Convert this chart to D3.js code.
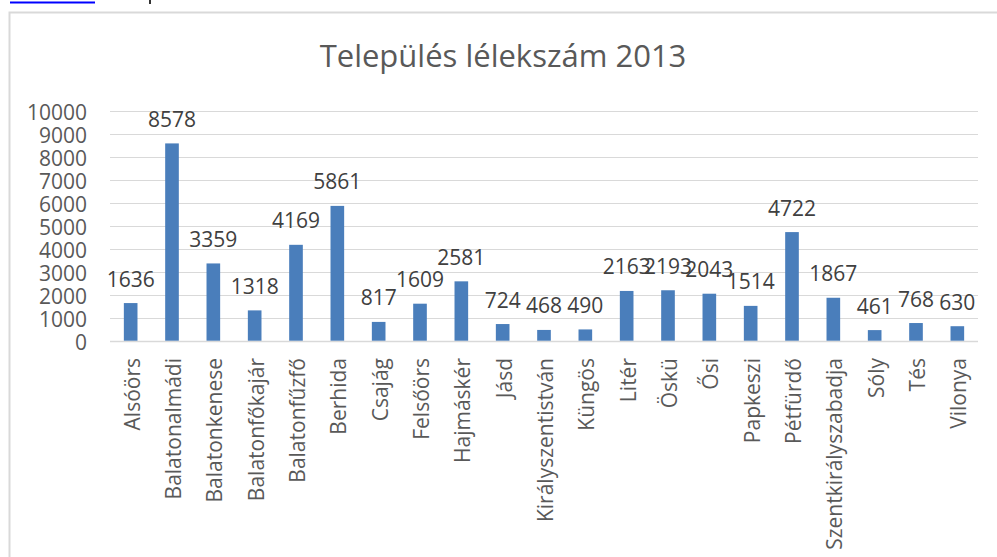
<!DOCTYPE html>
<html>
<head>
<meta charset="utf-8">
<script src="https://cdn.jsdelivr.net/npm/d3@7"></script>
<style>
  body { margin: 0; background: #fff; }
  text { font-family: "Open Sans", sans-serif; }
</style>
</head>
<body>
<div id="chart"></div>
<script>
var width = 997;
var height = 557;

var towns = ['Alsóörs', 'Balatonalmádi', 'Balatonkenese', 'Balatonfőkajár', 'Balatonfűzfő',
  'Berhida', 'Csajág', 'Felsőörs', 'Hajmáskér', 'Jásd', 'Királyszentistván', 'Küngös',
  'Litér', 'Öskü', 'Ősi', 'Papkeszi', 'Pétfürdő', 'Szentkirályszabadja', 'Sóly', 'Tés', 'Vilonya'];
var population = [1636, 8578, 3359, 1318, 4169, 5861, 817, 1609, 2581, 724, 468, 490,
  2163, 2193, 2043, 1514, 4722, 1867, 461, 768, 630];
var yTicks = [0, 1000, 2000, 3000, 4000, 5000, 6000, 7000, 8000, 9000, 10000];
var title = 'Település lélekszám 2013';

var svg = d3.select("#chart")
    .append("svg")
    .attr("width", width)
    .attr("height", height)

// bits of the page around the chart
svg.append("rect").attr("x", 10).attr("y", 1.5).attr("width", 85).attr("height", 2).attr("fill", "#0000ff")
svg.append("rect").attr("x", 149).attr("y", 0).attr("width", 2).attr("height", 4).attr("fill", "#333")
svg.append("rect")
    .attr("x", 9.5).attr("y", 12.5)
    .attr("width", 1000).attr("height", 560)
    .attr("fill", "#fff")
    .attr("stroke", "#d9d9d9")
    .attr("stroke-width", 2)

var x = d3.scaleBand()
    .domain(towns)
    .range([110, 978])
    .paddingInner(0.67)
    .paddingOuter(0.335)

var y = d3.scaleLinear()
    .domain([0, 10000])
    .range([340.7, 110.7])

// gridlines
svg.append("g")
  .selectAll("line")
  .data(yTicks)
  .enter()
  .append("line")
  .attr("x1", 110)
  .attr("x2", 978)
  .attr("y1", function(d) { return Math.round(y(d)) + 0.5 })
  .attr("y2", function(d) { return Math.round(y(d)) + 0.5 })
  .attr("stroke", "#d9d9d9")
  .attr("stroke-width", function(d) { return d == 0 ? 1.5 : 1 })

var yAxis = svg.append("g")
    .attr("transform", "translate(87,0)")
    .call(d3.axisLeft(y).tickValues(yTicks).tickFormat(d3.format("d")).tickSize(0).tickPadding(0))
yAxis.select(".domain").remove()
yAxis.selectAll("text")
    .attr("font-size", 21)
    .attr("font-family", "Open Sans")
    .attr("fill", "#595959")
    .attr("dy", "0.4em")

var xAxis = svg.append("g")
    .attr("transform", "translate(0,358)")
    .call(d3.axisBottom(x).tickSize(0).tickPadding(0))
xAxis.select(".domain").remove()
xAxis.selectAll("text")
    .attr("font-size", 21)
    .attr("font-family", "Open Sans")
    .attr("fill", "#595959")
    .attr("text-anchor", "end")
    .attr("y", 0)
    .attr("dy", 0)
    .attr("transform", "translate(9,0) rotate(-90)")

var groups = svg.selectAll(".bar")
    .data(towns)
    .enter()
    .append("g")
    .attr("class", "bar")

groups.append("rect")
    .attr("x", function(d) { return x(d) })
    .attr("width", x.bandwidth())
    .attr("y", function(d, i) { return y(population[i]) })
    .attr("height", function(d, i) { return y(0) - y(population[i]) })
    .attr("fill", "#4a7ebb")

groups.append("text")
    .attr("x", function(d) { return x(d) + x.bandwidth() / 2 })
    .attr("y", function(d, i) { return y(population[i]) - 16.5 })
    .attr("text-anchor", "middle")
    .attr("font-size", 21)
    .attr("fill", "#404040")
    .text(function(d, i) { return population[i] })

svg.append("text")
    .attr("x", 503)
    .attr("y", 67)
    .attr("text-anchor", "middle")
    .attr("font-size", 31)
    .attr("fill", "#595959")
    .text(title)
</script>
</body>
</html>
